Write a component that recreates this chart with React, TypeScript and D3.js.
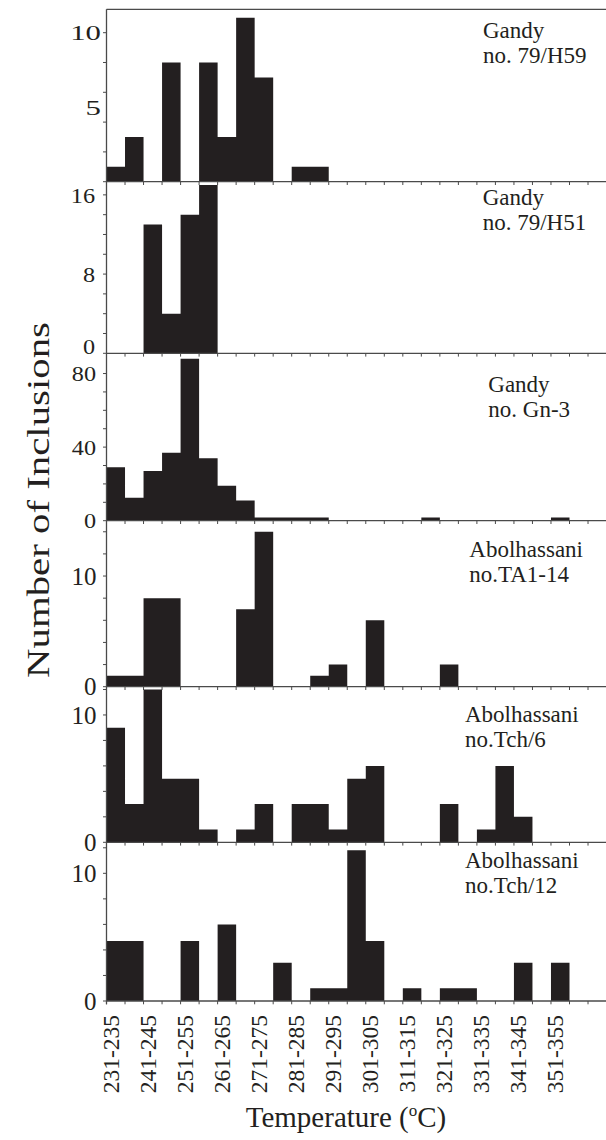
import React, { useEffect, useRef } from "react";
import * as d3 from "d3";

// temperature classes (5 degree bins)
const bins = [
  "231-235", "236-240", "241-245", "246-250", "251-255", "256-260", "261-265",
  "266-270", "271-275", "276-280", "281-285", "286-290", "291-295", "296-300",
  "301-305", "306-310", "311-315", "316-320", "321-325", "326-330", "331-335",
  "336-340", "341-345", "346-350", "351-355", "356-360",
];

const xTickLabels = [
  "231-235", "241-245", "251-255", "261-265", "271-275", "281-285", "291-295",
  "301-305", "311-315", "321-325", "331-335", "341-345", "351-355",
];

const sampleSites = ["Gandy", "Gandy", "Gandy", "Abolhassani", "Abolhassani", "Abolhassani"];
const sampleIds = ["no. 79/H59", "no. 79/H51", "no. Gn-3", "no.TA1-14", "no.Tch/6", "no.Tch/12"];

const h59 = [1, 3, 0, 8, 0, 8, 3, 11, 7, 0, 1, 1, 0, 0, 0, 0, 0, 0, 0, 0, 0, 0, 0, 0, 0, 0];
const h51 = [0, 0, 13, 4, 14, 17, 0, 0, 0, 0, 0, 0, 0, 0, 0, 0, 0, 0, 0, 0, 0, 0, 0, 0, 0, 0];
const gn3 = [29, 12.5, 27, 37, 88, 34, 19, 11, 1.7, 1.7, 1.7, 1.7, 0, 0, 0, 0, 0, 1.7, 0, 0, 0, 0, 0, 0, 1.7, 0];
const ta114 = [1, 1, 8, 8, 0, 0, 0, 7, 14, 0, 0, 1, 2, 0, 6, 0, 0, 0, 2, 0, 0, 0, 0, 0, 0, 0];
const tch6 = [9, 3, 12, 5, 5, 1, 0, 1, 3, 0, 3, 3, 1, 5, 6, 0, 0, 0, 3, 0, 1, 6, 2, 0, 0, 0];
const tch12 = [4.7, 4.7, 0, 0, 4.7, 0, 6, 0, 0, 3, 0, 1, 1, 11.8, 4.7, 0, 1, 0, 1, 1, 0, 0, 3, 0, 3, 0];

const series = [h59, h51, gn3, ta114, tch6, tch12];

// y axis extents / ticks per panel
const yMax = [11.57, 17.33, 91, 15, 12.22, 12.43];
const yTickStep = [2, 2, 10, 2, 2, 2];
const yTickTop = [10, 16, 80, 14, 12, 12];
const yLabels = [[5, 10], [0, 8, 16], [0, 40, 80], [0, 10], [0, 10], [0, 10]];

const W = 606;
const H = 1140;
const FONT = "Liberation Serif, Times New Roman, Times, serif";
const INK = "#231f20";
const AXIS = "#4a4a4a";

// panel edges (top of first .. bottom of last)
const edges = [9.3, 181.7, 353.3, 520.7, 686.7, 842.3, 1001];
const labelPos = [
  { x: 483, y: 38.3 },
  { x: 482.7, y: 205 },
  { x: 488.3, y: 391.7 },
  { x: 469.3, y: 556.7 },
  { x: 465, y: 721.7 },
  { x: 465, y: 868.3 },
];
const tickFont = [
  { size: 22, sx: 1.4, x: 101 },
  { size: 22, sx: 1.1, x: 95 },
  { size: 22, sx: 1.1, x: 96 },
  { size: 25, sx: 1, x: 96.5 },
  { size: 25, sx: 1, x: 96.5 },
  { size: 25, sx: 1, x: 96.5 },
];

export default function App() {
  const svgRef = useRef<SVGSVGElement>(null);

  useEffect(() => {
    if (!svgRef.current) return;
    const svg = d3.select(svgRef.current);
    svg.selectAll("*").remove();

    const x0 = 106.5;
    const bw = 18.52;
    const x = d3.scaleBand<string>()
      .domain(bins)
      .range([x0, x0 + bw * bins.length])
      .paddingInner(0)
      .paddingOuter(0);

    svg.append("rect").attr("width", W).attr("height", H).attr("fill", "#fff");

    const g = svg.append("g").style("font-family", FONT);

    // x tick positions along every baseline, continued to the edge
    const xTicks: number[] = bins.map(b => x(b)!);
    let last = x(bins[bins.length - 1])! + x.bandwidth();
    while (last <= W + 1) {
      xTicks.push(last);
      last += x.bandwidth();
    }

    series.forEach((vals, p) => {
      const top = edges[p];
      const bottom = edges[p + 1];
      const y = d3.scaleLinear().domain([0, yMax[p]]).range([bottom, top]);
      const panel = g.append("g");

      // histogram as one stepped shape (no seams between touching bars)
      const pts = vals.map((v, i) => ({ x: x(bins[i])!, v }));
      pts.push({ x: x(bins[bins.length - 1])! + x.bandwidth(), v: 0 });
      const area = d3.area<{ x: number; v: number }>()
        .x(d => d.x)
        .y0(y(0))
        .y1(d => y(d.v))
        .curve(d3.curveStepAfter);
      panel.append("path")
        .attr("d", area(pts))
        .attr("fill", INK);

      // baseline
      panel.append("line")
        .attr("x1", x0).attr("x2", W)
        .attr("y1", y(0)).attr("y2", y(0))
        .attr("stroke", AXIS).attr("stroke-width", 1.3);

      // x ticks pointing down
      panel.selectAll("line.xt")
        .data(xTicks)
        .join("line")
        .attr("class", "xt")
        .attr("x1", d => d).attr("x2", d => d)
        .attr("y1", y(0)).attr("y2", y(0) + 3.3)
        .attr("stroke", AXIS).attr("stroke-width", 1);

      // y ticks
      const yt = d3.range(0, yTickTop[p] + 0.001, yTickStep[p]);
      panel.selectAll("line.yt")
        .data(yt)
        .join("line")
        .attr("class", "yt")
        .attr("x1", x0 - 3.5).attr("x2", x0)
        .attr("y1", d => y(d)).attr("y2", d => y(d))
        .attr("stroke", AXIS).attr("stroke-width", 1);

      // y labels
      const tf = tickFont[p];
      panel.selectAll("text.yl")
        .data(yLabels[p])
        .join("text")
        .attr("class", "yl")
        .attr("transform", d => {
          const shift = p === 1 && d === 0 ? -7 : 0;
          return `translate(${tf.x},${y(d) + shift}) scale(${tf.sx},1)`;
        })
        .attr("dy", "0.35em")
        .attr("text-anchor", "end")
        .style("font-size", `${tf.size}px`)
        .attr("fill", INK)
        .text(d => d);

      // sample label
      const lp = labelPos[p];
      const t = panel.append("text")
        .style("font-size", "23px")
        .attr("fill", INK);
      t.append("tspan").attr("x", lp.x).attr("y", lp.y).text(sampleSites[p]);
      t.append("tspan").attr("x", lp.x).attr("y", lp.y + 25).text(sampleIds[p]);
    });

    // top frame line
    g.append("line")
      .attr("x1", x0).attr("x2", W)
      .attr("y1", edges[0]).attr("y2", edges[0])
      .attr("stroke", AXIS).attr("stroke-width", 1.3);

    // left axis line
    g.append("line")
      .attr("x1", x0).attr("x2", x0)
      .attr("y1", edges[0]).attr("y2", edges[edges.length - 1] + 3.3)
      .attr("stroke", AXIS).attr("stroke-width", 1.3);

    // x tick labels (rotated)
    const yBase = edges[edges.length - 1];
    g.selectAll("text.xl")
      .data(xTickLabels)
      .join("text")
      .attr("class", "xl")
      .attr("transform", d => `translate(${x(d)! + x.bandwidth() / 2 + 3},${yBase + 14}) rotate(-90)`)
      .attr("text-anchor", "end")
      .style("font-size", "23.5px")
      .attr("fill", INK)
      .text(d => d);

    // x title
    const xt = g.append("text")
      .attr("x", 346)
      .attr("y", 1127)
      .attr("text-anchor", "middle")
      .style("font-size", "29px")
      .attr("fill", INK);
    xt.append("tspan").text("Temperature (");
    xt.append("tspan").style("font-size", "17px").attr("dy", -11).text("o");
    xt.append("tspan").attr("dy", 11).text("C)");

    // y title
    g.append("text")
      .attr("transform", `translate(49,500) rotate(-90)`)
      .attr("text-anchor", "middle")
      .style("font-size", "31px")
      .attr("textLength", 356)
      .attr("lengthAdjust", "spacingAndGlyphs")
      .attr("fill", INK)
      .text("Number of Inclusions");
  }, []);

  return (
    <svg
      ref={svgRef}
      width={W}
      height={H}
      viewBox={`0 0 ${W} ${H}`}
      style={{ position: "absolute", left: 0, top: 0, display: "block" }}
    />
  );
}
